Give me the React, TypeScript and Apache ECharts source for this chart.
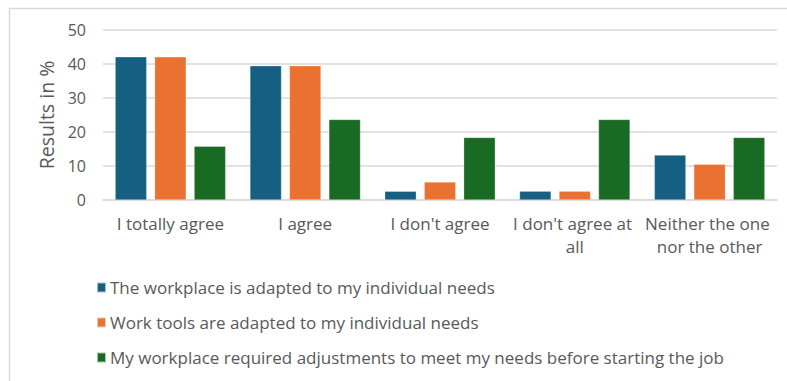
import React, { useEffect, useRef } from "react";
import * as echarts from "echarts";

const categories = [
  "I totally agree",
  "I agree",
  "I don't agree",
  "I don't agree at all",
  "Neither the one nor the other",
];

const seriesNames = [
  "The workplace is adapted to my individual needs",
  "Work tools are adapted to my individual needs",
  "My workplace required adjustments to meet my needs before starting the job",
];

const workplaceAdapted = [42.1, 39.5, 2.6, 2.6, 13.2];
const toolsAdapted = [42.1, 39.5, 5.3, 2.6, 10.5];
const adjustmentsRequired = [15.8, 23.7, 18.4, 23.7, 18.4];

const colors = ["#156082", "#E97132", "#196B24"];

const yTicks = { min: 0, max: 50, interval: 10 };

const textColor = "#595959";
const gridColor = "#D9D9D9";
const fontFamily = "'Open Sans', sans-serif";

export default function App() {
  const ref = useRef<HTMLDivElement>(null);

  useEffect(() => {
    if (!ref.current) return;
    const chart = echarts.init(ref.current, undefined, { renderer: "svg" });
    const values = [workplaceAdapted, toolsAdapted, adjustmentsRequired];
    chart.setOption({
      animation: false,
      color: colors,
      textStyle: { fontFamily },
      graphic: [
        {
          type: "rect",
          shape: { x: 9.5, y: 8.5, width: 800, height: 400 },
          style: { fill: "none", stroke: gridColor, lineWidth: 1.5 },
          silent: true,
        },
      ],
      grid: { left: 103, right: 10, top: 30, bottom: 181 },
      xAxis: {
        type: "category",
        data: categories,
        axisLine: { lineStyle: { color: gridColor, width: 1.5 } },
        axisTick: { show: false },
        axisLabel: {
          color: textColor,
          fontSize: 17,
          fontFamily,
          margin: 12,
          lineHeight: 23,
          width: 130,
          overflow: "break",
          interval: 0,
        },
      },
      yAxis: {
        type: "value",
        min: yTicks.min,
        max: yTicks.max,
        interval: yTicks.interval,
        name: "Results in %",
        nameLocation: "middle",
        nameGap: 45,
        nameTextStyle: { color: textColor, fontSize: 19.5, fontFamily },
        axisLine: { show: false },
        axisTick: { show: false },
        axisLabel: { color: textColor, fontSize: 16, fontFamily, margin: 17 },
        splitLine: { lineStyle: { color: gridColor, width: 1.5 } },
      },
      legend: {
        orient: "vertical",
        left: 96,
        top: 279,
        padding: 0,
        itemGap: 18,
        itemWidth: 9,
        itemHeight: 10,
        icon: "rect",
        data: seriesNames,
        textStyle: {
          color: textColor,
          fontSize: 17,
          lineHeight: 17,
          fontFamily,
          padding: [0, 0, 0, -1],
        },
      },
      series: seriesNames.map((name, i) => ({
        name,
        type: "bar",
        data: values[i],
        barGap: "25%",
        barCategoryGap: "18%",
        itemStyle: { borderColor: "rgba(255,255,255,0.6)", borderWidth: 0.5 },
      })),
    });
    return () => chart.dispose();
  }, []);

  return (
    <div
      ref={ref}
      style={{ position: "fixed", left: 0, top: 0, width: 787, height: 381, background: "#fff" }}
    />
  );
}
